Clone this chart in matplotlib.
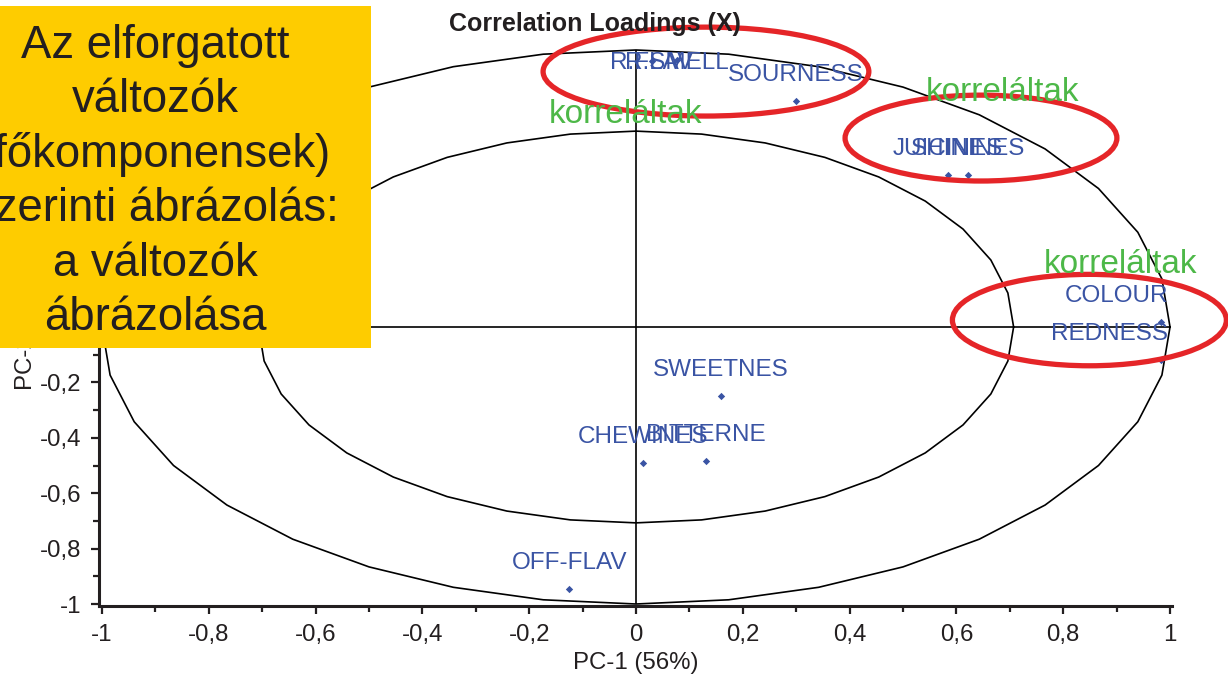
import numpy as np
import matplotlib
matplotlib.use("Agg")
import matplotlib.pyplot as plt
from matplotlib.patches import Ellipse, Rectangle
from matplotlib.ticker import MultipleLocator

plt.rcParams['font.family'] = ['Liberation Sans', 'DejaVu Sans']

# ---------------- data ----------------
variables = ["R.SMELL", "R.FLAV", "SOURNESS", "JUICINES", "SHININES", "COLOUR",
             "REDNESS", "SWEETNES", "BITTERNE", "CHEWINES", "OFF-FLAV"]
pc1 = [0.077, 0.030, 0.300, 0.584, 0.622, 0.983, 0.983, 0.159, 0.131, 0.013, -0.125]
pc2 = [0.965, 0.960, 0.816, 0.549, 0.549, 0.018, -0.119, -0.249, -0.484, -0.491, -0.946]

tick_values = [-1.0, -0.8, -0.6, -0.4, -0.2, 0.0, 0.2, 0.4, 0.6, 0.8, 1.0]
tick_labels = ["-1", "-0,8", "-0,6", "-0,4", "-0,2", "0", "0,2", "0,4", "0,6", "0,8", "1"]

title = "Correlation Loadings (X)"
xlabel = "PC-1 (56%)"
ylabel = "PC-2 (18%)"

box_lines = ["Az elforgatott", "változók", "(főkomponensek)",
             "szerinti ábrázolás:", "a változók", "ábrázolása"]
note_text = "korreláltak"

# annotation overlay (positions in data units)
note_x = [-0.019, 0.687, 0.908]
note_y = [0.738, 0.816, 0.195]
ring_cx = [0.131, 0.646, 0.849]
ring_cy = [0.922, 0.682, 0.025]
ring_w = [0.610, 0.509, 0.513]
ring_h = [0.321, 0.310, 0.330]

# ---------------- style ----------------
BLUE = "#3a54a4"
GREEN = "#4db848"
RED = "#e52528"
DARK = "#231f20"
YELLOW = "#fecc00"

W, H = 1228, 677
fig = plt.figure(figsize=(W / 100, H / 100), dpi=100)
ax = fig.add_axes([99 / W, 1 - 606 / H, (1172 - 99) / W, (606 - 48.6) / H])
ax.set_xlim(-1.0056, 1.0037)
ax.set_ylim(-1.0072, 1.005)

for s in ("top", "right"):
    ax.spines[s].set_visible(False)
for s in ("left", "bottom"):
    ax.spines[s].set_linewidth(2.2)
    ax.spines[s].set_color(DARK)

ax.set_xticks(tick_values)
ax.set_xticklabels(tick_labels)
ax.set_yticks(tick_values)
ax.set_yticklabels(tick_labels)
ax.xaxis.set_minor_locator(MultipleLocator(0.1))
ax.yaxis.set_minor_locator(MultipleLocator(0.1))
ax.tick_params(which="major", direction="out", length=6, width=1.6, color=DARK,
               labelsize=17.3, labelcolor=DARK, pad=7)
ax.tick_params(which="minor", direction="out", length=4, width=1.6, color=DARK)

# correlation circles (100% and 50% explained variance)
theta = np.linspace(0, 2 * np.pi, 37)
for r in (1.0, np.sqrt(0.5)):
    ax.plot(r * np.cos(theta), r * np.sin(theta), color="black", lw=1.2, zorder=2)
ax.hlines(0, -1, 1, color="black", lw=1.2, zorder=2)
ax.vlines(0, -1, 1, color="black", lw=1.2, zorder=2)

# loadings
ax.scatter(pc1, pc2, marker="D", s=14, color=BLUE, zorder=4, linewidths=0)
for name, x, y in zip(variables, pc1, pc2):
    ly = min(y + 0.072, 0.931)
    if x > 0.9:
        lx, ha = 0.997, "right"
    else:
        lx, ha = x, "center"
    ax.text(lx, ly, name, ha=ha, va="baseline", fontsize=17.5, color=BLUE, zorder=4)

ax.set_xlabel(xlabel, fontsize=17.3, color=DARK)
ax.xaxis.set_label_coords(0.5, -0.082)
ax.set_ylabel(ylabel, fontsize=17.3, color=DARK)
ax.yaxis.set_label_coords(-0.058, 0.5)

# red rings + green notes
for cx, cy, w, h in zip(ring_cx, ring_cy, ring_w, ring_h):
    ax.add_patch(Ellipse((cx, cy), w, h, fill=False, edgecolor=RED, lw=3.8,
                         clip_on=False, zorder=6))
for x, y in zip(note_x, note_y):
    ax.text(x, y, note_text, ha="center", va="baseline", fontsize=24, color=GREEN,
            clip_on=False, zorder=7)

# title
fig.text(595 / W, 1 - 31 / H, title, ha="center", va="baseline", fontsize=18,
         fontweight="bold", color=DARK)

# yellow box
fig.add_artist(Rectangle((-0.1, 1 - 348 / H), 0.1 + 371 / W, (348 - 6) / H,
                         transform=fig.transFigure, facecolor=YELLOW,
                         edgecolor="none", zorder=10))
for i, line in enumerate(box_lines):
    fig.text(155 / W, 1 - (58 + 54.4 * i) / H, line, ha="center", va="baseline",
             fontsize=32.8, color=DARK, zorder=11)

fig.savefig("out.png", dpi=100)
